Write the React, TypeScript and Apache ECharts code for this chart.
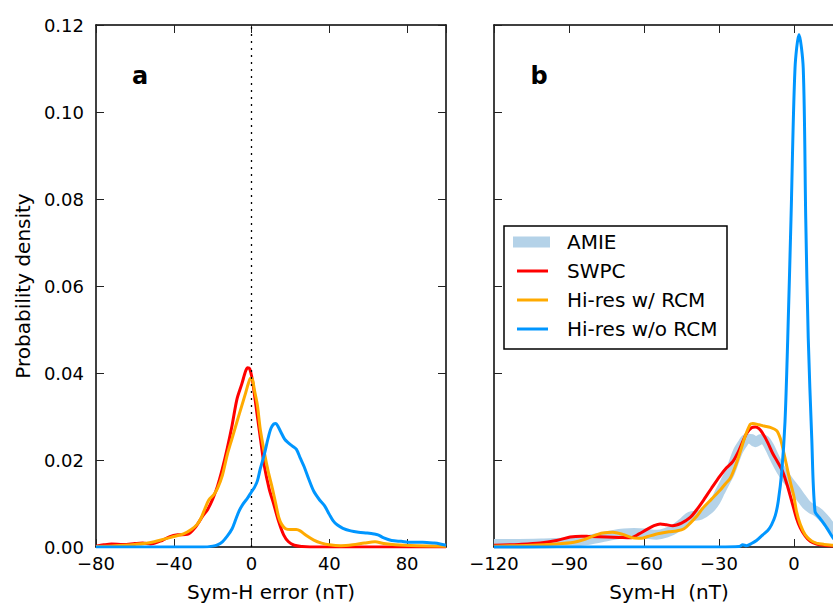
import React, { useEffect, useRef } from "react";
import * as echarts from "echarts";

// ---------- data ----------
const seriesNames = ["AMIE", "SWPC", "Hi-res w/ RCM", "Hi-res w/o RCM"];
const panelLabels = ["a", "b"];
const xTitleA = "Sym-H error (nT)";
const xTitleB = "Sym-H  (nT)";
const yTitle = "Probability density";
const zeroLineX = [0];

// panel a: Sym-H error distributions [x, density]
const errSWPC: number[][] = [
  [-80, 0.0002], [-76, 0.0005], [-72, 0.0007], [-66, 0.0006], [-60, 0.0008], [-56, 0.0009],
  [-52, 0.0007], [-46, 0.0015], [-42, 0.0024], [-38, 0.0028], [-33, 0.0029], [-29, 0.0045],
  [-25, 0.0072], [-22.5, 0.0087], [-20, 0.011], [-17.5, 0.014], [-15, 0.018], [-12.5, 0.0227],
  [-10, 0.028], [-7.5, 0.034], [-5, 0.0375], [-3, 0.0405], [-2, 0.0412], [-1, 0.041],
  [0.3, 0.0387], [1.5, 0.035], [3, 0.03], [5, 0.0235], [6.5, 0.0188], [9, 0.0135],
  [11.5, 0.0097], [14, 0.0058], [16.5, 0.0028], [19, 0.0012], [22, 0.0004], [26, 0.0001],
  [30, 0], [100, 0],
];
const errHiresRCM: number[][] = [
  [-80, 0.0001], [-70, 0.0003], [-60, 0.0006], [-55, 0.0008], [-50, 0.0012], [-45, 0.0018],
  [-40, 0.0024], [-35, 0.003], [-31, 0.004], [-28, 0.0052], [-26, 0.0066], [-24, 0.0088],
  [-22, 0.0108], [-19.5, 0.012], [-17.5, 0.0135], [-15, 0.0165], [-12.5, 0.0212], [-10, 0.025],
  [-7.5, 0.0288], [-5, 0.0325], [-3, 0.0355], [-1.5, 0.0378], [-0.5, 0.0388], [0.5, 0.0385],
  [1.5, 0.036], [3, 0.0326], [4.5, 0.027], [6.5, 0.0219], [8.5, 0.0175], [10.7, 0.0135],
  [12.5, 0.0098], [14, 0.0068], [15.5, 0.0052], [17.5, 0.0042], [20, 0.004], [23, 0.004],
  [25, 0.0037], [28, 0.0027], [32, 0.0016], [36, 0.0009], [40, 0.0005], [46, 0.0003],
  [52, 0.0005], [58, 0.0009], [63.5, 0.0012], [68, 0.0008], [74, 0.0005], [85, 0.0003],
  [100, 0.0002],
];
const errHiresNoRCM: number[][] = [
  [-80, 0], [-25, 0], [-20, 0.0002], [-17.5, 0.0005], [-15, 0.0012], [-12.5, 0.0025],
  [-10, 0.0042], [-8, 0.0065], [-6.5, 0.0082], [-4.5, 0.0098], [-2, 0.0113], [0, 0.0127],
  [1.5, 0.0137], [3, 0.0152], [4.5, 0.018], [6.5, 0.0212], [8.5, 0.025], [10, 0.0273],
  [11.5, 0.0283], [12.5, 0.0284], [13.5, 0.0278], [15, 0.0265], [17, 0.0248], [18.5, 0.0241],
  [21, 0.0232], [23, 0.0225], [25, 0.0205], [27, 0.0185], [29.5, 0.0155], [32, 0.0128],
  [35, 0.0108], [37.5, 0.0095], [40, 0.0075], [42, 0.006], [44, 0.0051], [47, 0.0043],
  [51, 0.0037], [55, 0.0034], [59.5, 0.0032], [63, 0.003], [65, 0.0028], [68, 0.0021],
  [72, 0.0015], [77, 0.0013], [82, 0.0011], [88, 0.0011], [94, 0.0009], [97, 0.0007],
  [100, 0.0004],
];

// panel b: Sym-H distributions [x, density]
const symAMIE: number[][] = [
  [-120, 0.0007], [-110, 0.0007], [-100, 0.0008], [-95, 0.0009], [-90, 0.0011], [-85, 0.0014],
  [-81.5, 0.0017], [-77, 0.0022], [-72, 0.0028], [-68, 0.0031], [-64, 0.0032], [-60, 0.0031],
  [-55, 0.0028], [-51, 0.0033], [-47, 0.0044], [-44, 0.0058], [-41.5, 0.007], [-37.5, 0.0074],
  [-34, 0.0087], [-31.5, 0.0105], [-29.5, 0.0128], [-27.5, 0.015], [-25.5, 0.0173],
  [-22.5, 0.0219], [-20.5, 0.0238], [-19, 0.0249], [-17, 0.0248], [-15.5, 0.0241],
  [-13, 0.0248], [-11.5, 0.0245], [-10, 0.0232], [-7, 0.0196], [-5, 0.0175], [-3, 0.0158],
  [-1, 0.0143], [1, 0.0128], [3, 0.0112], [5, 0.0097], [7, 0.0088], [9, 0.0082], [11, 0.0072],
  [13, 0.0059], [15.5, 0.004], [18, 0.0025], [20, 0.0015],
];
const symSWPC: number[][] = [
  [-120, 0.0004], [-110, 0.0006], [-101.5, 0.0009], [-95, 0.0015], [-89.5, 0.0023],
  [-85, 0.0025], [-81.5, 0.0024], [-75, 0.0023], [-70, 0.0022], [-65.5, 0.0021], [-62, 0.003],
  [-59, 0.004], [-56, 0.0049], [-53.5, 0.0053], [-51, 0.0051], [-48.5, 0.0049], [-45, 0.0055],
  [-41.5, 0.0068], [-39, 0.0085], [-36.5, 0.0105], [-33, 0.0135], [-29.5, 0.0164],
  [-27, 0.0182], [-24.5, 0.0196], [-22, 0.0222], [-19, 0.0261], [-17, 0.0274], [-15.5, 0.0276],
  [-14, 0.0272], [-12.5, 0.0261], [-10.5, 0.024], [-8.5, 0.0215], [-6.5, 0.0195],
  [-4.5, 0.0173], [-2.5, 0.0138], [-0.5, 0.0097], [1, 0.0066], [2.5, 0.0044], [4.5, 0.0025],
  [6.5, 0.0013], [9, 0.0007], [12, 0.0004], [16, 0.0002], [20, 0.0001],
];
const symHiresRCM: number[][] = [
  [-120, 0.0002], [-105, 0.0004], [-95, 0.0007], [-88, 0.0011], [-84, 0.0017], [-80, 0.0026],
  [-76.5, 0.0032], [-72.5, 0.0034], [-68.5, 0.0029], [-64.5, 0.0021], [-61, 0.002],
  [-58.5, 0.0024], [-54, 0.0031], [-50, 0.0035], [-47, 0.0037], [-44, 0.0042], [-41.5, 0.0055],
  [-39, 0.007], [-36.5, 0.0089], [-33, 0.011], [-29.5, 0.0131], [-27.5, 0.0145],
  [-25.5, 0.0158], [-23.5, 0.0185], [-21.5, 0.0219], [-19.5, 0.0255], [-17.5, 0.0282],
  [-16.5, 0.0284], [-14, 0.0281], [-12, 0.0278], [-9.5, 0.0275], [-7, 0.0268], [-5.5, 0.025],
  [-4, 0.0215], [-2.5, 0.0175], [-1.5, 0.015], [0, 0.0115], [1, 0.0082], [2.5, 0.0052],
  [4.5, 0.0028], [7, 0.0014], [9, 0.0009], [12, 0.0006], [15.5, 0.0004], [20, 0.0002],
];
const symHiresNoRCM: number[][] = [
  [-120, 0], [-30, 0], [-22, 0.0001], [-20.5, 0.0005], [-19, 0.0003], [-17, 0.0008],
  [-15, 0.0015], [-12.5, 0.0028], [-10.5, 0.0038], [-9, 0.0051], [-7.5, 0.0072],
  [-6.3, 0.0105], [-4.9, 0.0173], [-3.6, 0.0288], [-2.5, 0.048], [-1.2, 0.0754], [0.4, 0.11],
  [2, 0.1178], [3.7, 0.11], [4.7, 0.0754], [5.7, 0.048], [7.1, 0.025], [8.4, 0.0082],
  [10.4, 0.0066], [13.1, 0.0044], [15.6, 0.0021], [18, 0.0008], [20, 0.0003],
];

// ---------- styling ----------
const FONT = "DejaVu Sans";
const COLORS = { amie: "#b4d2e8", swpc: "#ff0000", rcm: "#ffaa00", norcm: "#0096ff" };
const minus = (v: number) => String(v).replace("-", "\u2212");

function xAxes(grid: number, min: number, max: number, interval: number, name: string) {
  const common = {
    gridIndex: grid,
    type: "value" as const,
    min,
    max,
    interval,
    splitLine: { show: false },
    axisLine: { show: true, onZero: false, lineStyle: { color: "#000", width: 1.5 } },
    axisTick: { show: true, inside: true, length: 8, lineStyle: { color: "#222", width: 1 } },
  };
  return [
    {
      ...common,
      position: "bottom" as const,
      axisLabel: {
        show: true,
        fontFamily: FONT,
        fontSize: 18,
        color: "#000",
        margin: 7,
        showMaxLabel: false,
        formatter: (v: number) => minus(v),
      },
      name,
      nameLocation: "middle" as const,
      nameGap: 35,
      nameTextStyle: { fontFamily: FONT, fontSize: 20, color: "#000" },
    },
    { ...common, position: "top" as const, axisLabel: { show: false } },
  ];
}

function yAxes(grid: number, labels: boolean) {
  const common = {
    gridIndex: grid,
    type: "value" as const,
    min: 0,
    max: 0.12,
    interval: 0.02,
    splitLine: { show: false },
    axisLine: { show: true, onZero: false, lineStyle: { color: "#000", width: 1.5 } },
    axisTick: { show: true, inside: true, length: 8, lineStyle: { color: "#222", width: 1 } },
  };
  return [
    {
      ...common,
      position: "left" as const,
      axisLabel: {
        show: labels,
        fontFamily: FONT,
        fontSize: 18,
        color: "#000",
        margin: 12,
        formatter: (v: number) => v.toFixed(2),
      },
      ...(labels
        ? {
            name: yTitle,
            nameLocation: "middle" as const,
            nameGap: 63,
            nameTextStyle: { fontFamily: FONT, fontSize: 20, color: "#000" },
          }
        : {}),
    },
    { ...common, position: "right" as const, axisLabel: { show: false } },
  ];
}

function line(name: string, data: number[][], color: string, xi: number, yi: number, width = 3, z = 3) {
  return {
    type: "line" as const,
    name,
    data,
    xAxisIndex: xi,
    yAxisIndex: yi,
    showSymbol: false,
    symbol: "none",
    smooth: 0.3,
    lineStyle: { color, width },
    itemStyle: { color },
    z,
    silent: true,
  };
}

export default function App() {
  const ref = useRef<HTMLDivElement>(null);

  useEffect(() => {
    if (!ref.current) return;
    const chart = echarts.init(ref.current, undefined, { renderer: "svg" });

    const legendRows = [
      { name: seriesNames[0], color: COLORS.amie, band: true },
      { name: seriesNames[1], color: COLORS.swpc, band: false },
      { name: seriesNames[2], color: COLORS.rcm, band: false },
      { name: seriesNames[3], color: COLORS.norcm, band: false },
    ];
    const legendChildren: any[] = [
      {
        type: "rect",
        shape: { x: 504, y: 226, width: 223, height: 123 },
        style: { fill: "#fff", stroke: "#000", lineWidth: 1.5 },
      },
    ];
    legendRows.forEach((r, i) => {
      const cy = 242 + i * 29;
      if (r.band) {
        legendChildren.push({
          type: "rect",
          shape: { x: 513, y: cy - 5.5, width: 37, height: 11 },
          style: { fill: r.color },
        });
      } else {
        legendChildren.push({
          type: "line",
          shape: { x1: 517, y1: cy, x2: 548, y2: cy },
          style: { stroke: r.color, lineWidth: 3 },
        });
      }
      legendChildren.push({
        type: "text",
        x: 567,
        y: cy,
        style: {
          text: r.name,
          fontFamily: FONT,
          fontSize: 20,
          fill: "#000",
          verticalAlign: "middle",
          align: "left",
        },
      });
    });

    const option: any = {
      animation: false,
      backgroundColor: "#fff",
      grid: [
        { left: 96, top: 25, width: 350, height: 524, containLabel: false },
        { left: 494, top: 25, width: 350, height: 524, containLabel: false },
      ],
      xAxis: [...xAxes(0, -80, 100, 40, xTitleA), ...xAxes(1, -120, 20, 30, xTitleB)],
      yAxis: [...yAxes(0, true), ...yAxes(1, false)],
      series: [
        {
          ...line(seriesNames[1], errSWPC, COLORS.swpc, 0, 0, 3, 3),
          markLine: {
            silent: true,
            symbol: ["none", "none"],
            label: { show: false },
            lineStyle: { color: "#000", width: 1.3, type: [2, 5] },
            data: zeroLineX.map((v) => ({ xAxis: v })),
          },
        },
        line(seriesNames[2], errHiresRCM, COLORS.rcm, 0, 0, 3, 4),
        line(seriesNames[3], errHiresNoRCM, COLORS.norcm, 0, 0, 3, 5),
        line(seriesNames[0], symAMIE, COLORS.amie, 2, 2, 10, 2),
        line(seriesNames[1], symSWPC, COLORS.swpc, 2, 2, 3, 3),
        line(seriesNames[2], symHiresRCM, COLORS.rcm, 2, 2, 3, 4),
        line(seriesNames[3], symHiresNoRCM, COLORS.norcm, 2, 2, 3, 5),
      ],
      graphic: [
        {
          type: "text",
          x: 140,
          y: 76,
          z: 50,
          style: {
            text: panelLabels[0],
            fontFamily: FONT,
            fontSize: 24,
            fontWeight: "bold",
            fill: "#000",
            align: "center",
            verticalAlign: "middle",
          },
        },
        {
          type: "text",
          x: 539,
          y: 76,
          z: 50,
          style: {
            text: panelLabels[1],
            fontFamily: FONT,
            fontSize: 24,
            fontWeight: "bold",
            fill: "#000",
            align: "center",
            verticalAlign: "middle",
          },
        },
        { type: "group", z: 100, children: legendChildren },
      ],
    };
    chart.setOption(option);
    return () => chart.dispose();
  }, []);

  return (
    <div style={{ position: "absolute", left: 0, top: 0, width: 833, height: 607, overflow: "hidden" }}>
      <div ref={ref} style={{ width: 860, height: 607 }} />
    </div>
  );
}
